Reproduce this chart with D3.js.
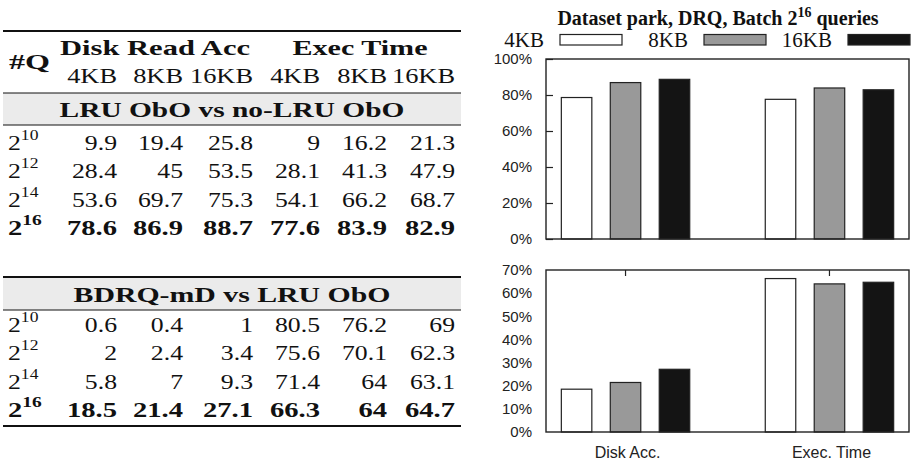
<!DOCTYPE html>
<html><head><meta charset="utf-8">
<script src="https://cdn.jsdelivr.net/npm/d3@7"></script>
<style>body{margin:0;background:#fff} svg{display:block}</style>
</head><body><svg id="c" width="912" height="463"></svg>
<script>
// ---------- data ----------
const sizes = ["4KB", "8KB", "16KB"];
const metricGroups = ["Disk Read Acc", "Exec Time"];
const queryExponents = ["10", "12", "14", "16"];
const tableTitles = ["LRU ObO vs no-LRU ObO", "BDRQ-mD vs LRU ObO"];
const lruVsNoLru = [
  [9.9, 19.4, 25.8, 9, 16.2, 21.3],
  [28.4, 45, 53.5, 28.1, 41.3, 47.9],
  [53.6, 69.7, 75.3, 54.1, 66.2, 68.7],
  [78.6, 86.9, 88.7, 77.6, 83.9, 82.9]
];
const bdrqVsLru = [
  [0.6, 0.4, 1, 80.5, 76.2, 69],
  [2, 2.4, 3.4, 75.6, 70.1, 62.3],
  [5.8, 7, 9.3, 71.4, 64, 63.1],
  [18.5, 21.4, 27.1, 66.3, 64, 64.7]
];
const chartCategories = ["Disk Acc.", "Exec. Time"];
const topDisk = [78.6, 86.9, 88.7];
const topExec = [77.6, 83.9, 82.9];
const botDisk = [18.5, 21.4, 27.1];
const botExec = [66.3, 64, 64.7];
const topTicks = [0, 20, 40, 60, 80, 100];
const botTicks = [0, 10, 20, 30, 40, 50, 60, 70];

// ---------- styles ----------
const svg = d3.select("#c");
const SERIF = "'Liberation Serif','Times New Roman',serif";
const SANS = "'Liberation Sans',Arial,sans-serif";
const INK = "#111";

function txt(g, x, y, s, o = {}) {
  const sx = o.sx ?? 1.17;
  const t = g.append("text")
    .attr("transform", `translate(${x},${y}) scale(${sx},1)`)
    .attr("font-family", o.family || SERIF)
    .attr("font-size", o.size || 22)
    .attr("font-weight", o.weight || "normal")
    .attr("text-anchor", o.anchor || "start")
    .attr("fill", o.fill || INK)
    .text(s);
  if (o.len) t.attr("textLength", o.len / sx).attr("lengthAdjust", "spacingAndGlyphs");
  return t;
}

// ---------- table ----------
const tab = svg.append("g");
const tL = 3, tR = 461;
const colRight = [117, 183, 253, 320, 387, 455];
const groupCenter = [155, 360];
const groupWidth = [190, 135];
const rowStep = 28.3;

function hline(y, w) {
  tab.append("line").attr("x1", tL).attr("x2", tR).attr("y1", y).attr("y2", y)
    .attr("stroke", "#111").attr("stroke-width", w);
}
function band(y0, y1, title, width) {
  tab.append("rect").attr("x", tL).attr("y", y0).attr("width", tR - tL).attr("height", y1 - y0)
    .attr("fill", "#ebebeb");
  txt(tab, (tL + tR) / 2, y1 - 8, title, { weight: "bold", anchor: "middle", sx: 1.26, len: width });
}
function rows(data, y0) {
  data.forEach((row, i) => {
    const y = y0 + i * rowStep;
    const bold = i === data.length - 1;
    const w = bold ? "bold" : "normal";
    const sx = bold ? 1.3 : 1.17;
    const t = txt(tab, 8, y, "2", { weight: w, sx });
    t.append("tspan").attr("dy", -10).attr("font-size", 15).text(queryExponents[i]);
    row.forEach((v, j) => txt(tab, colRight[j], y, String(v), { weight: w, anchor: "end", sx }));
  });
}

// table 1
hline(31, 2);
txt(tab, 9, 69, "#Q", { weight: "bold", sx: 1.4, len: 41 });
metricGroups.forEach((g, i) => txt(tab, groupCenter[i], 55, g, { weight: "bold", anchor: "middle", sx: 1.37, len: groupWidth[i] }));
colRight.forEach((x, j) => txt(tab, x, 83, sizes[j % 3], { anchor: "end", sx: 1.2 }));
band(93, 125, tableTitles[0], 345);
hline(93, 1);
hline(125, 1);
rows(lruVsNoLru, 150);

// table 2
band(277, 310, tableTitles[1], 317);
hline(277, 2);
hline(310, 1);
rows(bdrqVsLru, 332);
hline(426, 2);

// ---------- charts ----------
const ch = svg.append("g");
const fL = 546, fR = 909;
const fills = ["#ffffff", "#999999", "#141414"];
const x0 = d3.scalePoint().domain(chartCategories).range([fL, fR]).padding(0.39);
const x1 = d3.scaleBand().domain(sizes).range([-64.2, 64.2]).paddingInner(0.377).paddingOuter(0);

function barChart(yScale, ticks, disk, exec, opts) {
  const [y0, y1] = yScale.range();
  const data = [disk, exec];
  chartCategories.forEach((c, ci) => {
    sizes.forEach((s, si) => {
      const v = data[ci][si];
      ch.append("rect")
        .attr("x", x0(c) + x1(s)).attr("width", x1.bandwidth())
        .attr("y", yScale(v)).attr("height", yScale(0) - yScale(v))
        .attr("fill", fills[si]).attr("stroke", "#222").attr("stroke-width", 1.2);
    });
  });
  // frame
  ch.append("rect").attr("x", fL).attr("y", y1).attr("width", fR - fL).attr("height", y0 - y1)
    .attr("fill", "none").attr("stroke", "#222").attr("stroke-width", 1.4);
  // y axis labels & ticks
  const ax = ch.append("g").attr("transform", `translate(${fL},0)`)
    .call(d3.axisLeft(yScale).tickValues(ticks).tickFormat(d => d + "%").tickSize(opts.leftTicks ? -7 : 0).tickPadding(14));
  ax.select(".domain").remove();
  ax.selectAll("line").attr("stroke", "#222").attr("stroke-width", 1.2);
  ax.selectAll("text").attr("font-family", SANS).attr("font-size", 15).attr("fill", "#222");
  if (opts.topTicks) {
    chartCategories.forEach(c => {
      ch.append("line").attr("x1", x0(c)).attr("x2", x0(c)).attr("y1", y1).attr("y2", y1 + 6)
        .attr("stroke", "#222").attr("stroke-width", 1.2);
    });
  }
}

const yTop = d3.scaleLinear().domain([0, 100]).range([239, 59]);
const yBot = d3.scaleLinear().domain([0, 70]).range([432, 270]);
barChart(yTop, topTicks, topDisk, topExec, { leftTicks: true });
barChart(yBot, botTicks, botDisk, botExec, { topTicks: true });

// x labels
chartCategories.forEach(c => {
  ch.append("text").attr("x", x0(c) + 2).attr("y", 458).attr("text-anchor", "middle")
    .attr("font-family", SANS).attr("font-size", 16).attr("fill", "#222").text(c);
});

// title
const title = ch.append("text").attr("x", 718).attr("y", 25).attr("text-anchor", "middle")
  .attr("font-family", SERIF).attr("font-weight", "bold").attr("font-size", 20).attr("fill", INK);
title.append("tspan").text("Dataset park, DRQ, Batch 2");
title.append("tspan").attr("dy", -8).attr("font-size", 14).text("16");
title.append("tspan").attr("dy", 8).text(" queries");

// legend
const legBox = d3.scalePoint().domain(sizes).range([560, 848]);
sizes.forEach((s, i) => {
  ch.append("text").attr("x", legBox(s) - 16).attr("y", 47).attr("text-anchor", "end")
    .attr("font-family", SERIF).attr("font-size", 21).attr("fill", INK).text(s);
  ch.append("rect").attr("x", legBox(s)).attr("y", 34.5).attr("width", 62).attr("height", 10.5)
    .attr("fill", fills[i]).attr("stroke", "#222").attr("stroke-width", 1.2);
});
</script></body></html>
